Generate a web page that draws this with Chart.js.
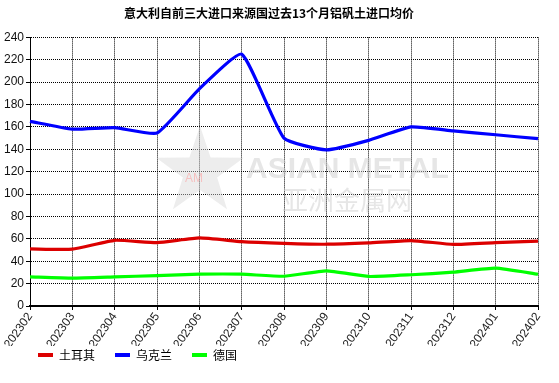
<!DOCTYPE html>
<html>
<head>
<meta charset="utf-8">
<script src="https://cdn.jsdelivr.net/npm/chart.js@4/dist/chart.umd.min.js"></script>
<style>
html,body{margin:0;padding:0;background:#fff;}
#wrap{width:559px;height:383px;position:relative;}
</style>
</head>
<body>
<div id="wrap"><canvas id="c" width="559" height="383"></canvas></div>
<script>
const titleText = '意大利自前三大进口来源国过去13个月铝矾土进口均价';
const categories = ['202302','202303','202304','202305','202306','202307','202308','202309','202310','202311','202312','202401','202402'];
const seriesNames = ['土耳其','乌克兰','德国'];
const turkey  = [51, 50.8, 58.7, 56.6, 60.8, 57.5, 56, 55.2, 56.4, 58.5, 55, 56.6, 58];
const ukraine = [165, 158, 159.4, 154.6, 194, 225, 150, 139.5, 148, 160, 156.4, 153, 149.5];
const germany = [26, 24.9, 26, 27.2, 28.4, 28.4, 26.6, 31.4, 26.4, 27.9, 30.2, 33.8, 28.4];
const yTicks = [0,20,40,60,80,100,120,140,160,180,200,220,240];
const colors = ['#dc0000','#0000ff','#00ff00'];

const watermark = {
  id: 'watermark',
  beforeDatasetsDraw(chart) {
    const ctx = chart.ctx;
    ctx.save();
    const cx = 200, cy = 172, R = 46, r = 18;
    ctx.beginPath();
    for (let i = 0; i < 10; i++) {
      const a = -Math.PI/2 + i*Math.PI/5;
      const rr = i % 2 === 0 ? R : r;
      const px = cx + rr*Math.cos(a), py = cy + rr*Math.sin(a);
      if (i === 0) ctx.moveTo(px, py); else ctx.lineTo(px, py);
    }
    ctx.closePath();
    ctx.fillStyle = 'rgba(215,215,215,0.45)';
    ctx.fill();
    ctx.font = '12px "Liberation Sans", Arial, sans-serif';
    ctx.fillStyle = 'rgba(255,150,150,0.5)';
    ctx.textAlign = 'center';
    ctx.textBaseline = 'middle';
    ctx.fillText('AM', 194, 179);
    ctx.fillStyle = 'rgba(205,205,205,0.5)';
    ctx.font = 'bold 30px "Liberation Sans", Arial, sans-serif';
    ctx.textAlign = 'left';
    ctx.fillText('ASIAN METAL', 246, 170);
    ctx.font = '26px "Noto Sans CJK SC", sans-serif';
    ctx.fillText('亚洲金属网', 282, 200);
    ctx.restore();
  }
};

const legendShift = {
  id: 'legendShift',
  afterLayout(chart) {
    const lg = chart.legend;
    if (lg) { lg.left += 18; lg.right += 18; lg.top -= 17; lg.bottom -= 17; }
  }
};

new Chart(document.getElementById('c'), {
  type: 'line',
  data: {
    labels: categories,
    datasets: [
      {label: seriesNames[0], data: turkey, borderColor: colors[0], backgroundColor: colors[0]},
      {label: seriesNames[1], data: ukraine, borderColor: colors[1], backgroundColor: colors[1]},
      {label: seriesNames[2], data: germany, borderColor: colors[2], backgroundColor: colors[2]}
    ].map(d => Object.assign(d, {borderWidth: 3.2, pointRadius: 0, pointHoverRadius: 0, fill: false, tension: 0.15}))
  },
  options: {
    responsive: false,
    animation: false,
    devicePixelRatio: 1,
    layout: {padding: {left: 0, right: 21, top: 0, bottom: 0}},
    plugins: {
      title: {
        display: true, text: titleText, color: '#000',
        font: {family: '"Noto Sans CJK SC", sans-serif', size: 12, weight: 'bold'},
        padding: {top: 6, bottom: 17}
      },
      legend: {
        position: 'bottom', align: 'start', maxHeight: 37,
        labels: {
          boxWidth: 15, boxHeight: 4, padding: 20, color: '#000',
          font: {family: '"Noto Sans CJK SC", sans-serif', size: 12},
          generateLabels(chart) {
            return chart.data.datasets.map((d, i) => ({
              text: d.label, fillStyle: d.borderColor, strokeStyle: d.borderColor,
              lineWidth: 0, hidden: false, datasetIndex: i
            }));
          }
        }
      },
      tooltip: {enabled: false}
    },
    scales: {
      x: {
        offset: false,
        grid: {color: '#000', lineWidth: 1, drawTicks: true, tickLength: 4, tickColor: '#000'},
        border: {display: true, color: '#000', width: 2, dash: [1, 1]},
        ticks: {
          color: '#222', minRotation: 55, maxRotation: 55, autoSkip: false, padding: 0,
          font: {family: '"Liberation Sans", Arial, sans-serif', size: 12}
        },
        afterFit(scale) { scale.height = 40; }
      },
      y: {
        min: 0, max: 240,
        afterBuildTicks(scale) { scale.ticks = yTicks.map(v => ({value: v})); },
        grid: {color: '#000', lineWidth: 1, drawTicks: true, tickLength: 4, tickColor: '#000'},
        border: {display: true, color: '#000', width: 1, dash: [1, 1]},
        ticks: {
          color: '#111', padding: 2,
          font: {family: '"Liberation Sans", Arial, sans-serif', size: 12}
        },
        afterFit(scale) { scale.width = 30; }
      }
    }
  },
  plugins: [watermark, legendShift]
});
</script>
</body>
</html>
